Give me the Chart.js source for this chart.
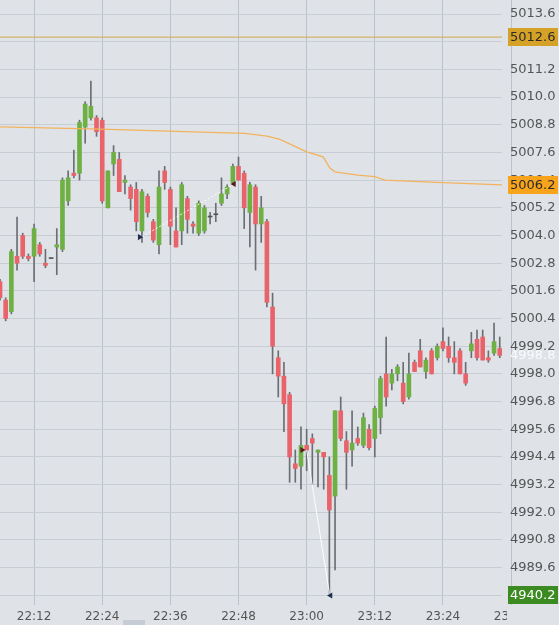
<!DOCTYPE html>
<html>
<head>
<meta charset="utf-8">
<script src="https://cdn.jsdelivr.net/npm/chart.js@4.4.1/dist/chart.umd.min.js"></script>
<style>
  html, body { margin: 0; padding: 0; background: #dfe3e8; }
  canvas { display: block; }
</style>
</head>
<body>
<canvas id="chart" width="559" height="625"></canvas>
<script>
// one candle per minute, first one at 22:06
const startMinute = 22 * 60 + 6;

const opens = [
  5002.0, 5001.2, 5000.7, 5003.1, 5004.0, 5003.1, 5003.1, 5003.6, 5002.8, 5003.0,
  5003.5, 5003.4, 5005.5, 5006.7, 5006.7, 5008.7, 5009.1, 5009.1, 5009.0, 5005.2,
  5007.1, 5007.3, 5006.3, 5006.1, 5006.0, 5004.2, 5005.7, 5004.6, 5003.6, 5006.8,
  5006.0, 5004.2, 5004.2, 5005.6, 5004.5, 5004.1, 5004.2, 5004.8, 5004.9, 5005.4,
  5005.8, 5006.3, 5007.0, 5006.7, 5005.0, 5006.1, 5004.5, 5004.6, 5000.9, 4998.7,
  4997.9, 4997.1, 4994.1, 4994.0, 4994.9, 4995.2, 4994.6, 4994.6, 4993.6, 4992.7,
  4996.4, 4995.1, 4994.7, 4995.2, 4994.9, 4995.6, 4995.2, 4996.1, 4998.0, 4997.6,
  4998.0, 4997.6, 4997.0, 4998.5, 4999.0, 4998.1, 4999.0, 4998.7, 4999.4, 4999.2,
  4998.7, 4999.0, 4998.0, 4999.0, 4999.5, 4999.6, 4998.7, 4998.9, 4999.1
];
const highs = [
  5002.1, 5001.3, 5003.4, 5004.8, 5004.1, 5003.2, 5004.5, 5003.7, 5003.4, 5003.0,
  5004.3, 5006.5, 5006.8, 5007.7, 5009.0, 5009.8, 5010.7, 5009.2, 5009.1, 5006.8,
  5007.9, 5007.6, 5006.6, 5006.2, 5006.3, 5006.0, 5005.8, 5004.7, 5006.8, 5007.0,
  5006.1, 5005.2, 5006.3, 5005.7, 5004.6, 5005.5, 5005.3, 5005.0, 5005.4, 5006.5,
  5006.2, 5007.1, 5007.4, 5006.8, 5006.3, 5006.2, 5005.7, 5004.7, 5001.5, 4999.0,
  4998.5, 4997.2, 4994.7, 4995.7, 4995.6, 4995.4, 4994.7, 4994.6, 4994.4, 4996.4,
  4997.0, 4995.5, 4996.4, 4995.7, 4996.3, 4995.8, 4996.6, 4997.9, 4999.6, 4998.2,
  4998.4, 4998.5, 4998.9, 4998.6, 4999.5, 4998.7, 4999.1, 4999.3, 5000.0, 4999.6,
  4999.4, 4999.1, 4998.5, 4999.8, 4999.9, 4999.9, 4999.0, 5000.2, 4999.6
];
const lows = [
  5001.2, 5000.3, 5000.6, 5002.5, 5003.0, 5002.9, 5002.0, 5003.1, 5002.6, 5003.0,
  5002.3, 5003.3, 5005.3, 5006.5, 5006.4, 5008.0, 5009.0, 5008.3, 5005.4, 5005.2,
  5006.6, 5005.9, 5005.8, 5005.1, 5004.2, 5003.7, 5004.8, 5003.7, 5003.2, 5006.0,
  5003.6, 5003.5, 5003.6, 5004.1, 5004.1, 5004.0, 5004.1, 5004.5, 5004.6, 5005.3,
  5005.6, 5006.3, 5006.4, 5004.3, 5003.5, 5002.5, 5003.7, 5000.9, 4998.0, 4997.0,
  4995.5, 4993.3, 4993.3, 4993.0, 4993.8, 4993.2, 4993.1, 4993.0, 4988.5, 4989.5,
  4995.1, 4993.0, 4994.0, 4994.9, 4994.8, 4994.7, 4994.4, 4995.4, 4996.6, 4997.3,
  4997.7, 4996.7, 4996.9, 4998.1, 4998.3, 4997.8, 4998.0, 4998.6, 4999.0, 4998.5,
  4998.0, 4998.0, 4997.5, 4998.7, 4998.6, 4998.6, 4998.5, 4998.8, 4998.7
];
const closes = [
  5001.3, 5000.4, 5003.3, 5002.8, 5003.1, 5003.0, 5004.3, 5003.2, 5002.7, 5003.0,
  5003.6, 5006.4, 5006.5, 5006.6, 5008.9, 5009.7, 5009.6, 5008.5, 5005.5, 5006.8,
  5007.6, 5005.9, 5006.4, 5005.6, 5004.6, 5005.9, 5005.0, 5003.8, 5006.1, 5006.3,
  5004.4, 5003.5, 5006.2, 5004.7, 5004.4, 5005.4, 5005.2, 5004.8, 5004.9, 5005.8,
  5006.1, 5007.0, 5006.4, 5005.2, 5006.2, 5004.5, 5005.2, 5001.1, 4999.2, 4997.9,
  4996.7, 4994.4, 4993.9, 4994.9, 4994.7, 4995.0, 4994.7, 4994.4, 4992.1, 4996.4,
  4995.2, 4994.6, 4995.0, 4995.0, 4996.1, 4994.8, 4996.5, 4997.8, 4997.0, 4998.0,
  4998.3, 4996.8, 4998.0, 4998.1, 4998.3, 4998.6, 4998.0, 4999.2, 4999.1, 4998.7,
  4998.5, 4998.0, 4997.6, 4999.3, 4998.7, 4998.6, 4998.6, 4999.4, 4998.8
];

// average price line (minutes after 22:06, price)
const avgX = [0, 17.6, 43.1, 47, 49.3, 54, 56.9, 58.1, 59, 63, 66, 67.8, 78, 88.5];
const avgY = [5008.71, 5008.61, 5008.43, 5008.31, 5008.17, 5007.63, 5007.41, 5006.92,
              5006.76, 5006.62, 5006.55, 5006.40, 5006.29, 5006.19];

const levelPrice = 5012.6;

// trade markers and their links
const tradeX = [24.6, 41.2, 53.2, 58.2];
const tradeY = [5003.93, 5006.23, 4994.70, 4988.39];
const tradeColor = ['#1f2d52', '#5a1b1b', '#5a1b1b', '#1f2d52'];
const tradeRot = [90, -90, 90, -90];
const linkA = [{ x: 25, y: 5003.95 }, { x: 41, y: 5006.2 }];
const linkB = [{ x: 54, y: 4994.7 }, { x: 58, y: 4988.5 }];

const yTicks = [4988.4, 4989.6, 4990.8, 4992.0, 4993.2, 4994.4, 4995.6, 4996.8, 4998.0,
  4999.2, 5000.4, 5001.6, 5002.8, 5004.0, 5005.2, 5006.4, 5007.6, 5008.8, 5010.0,
  5011.2, 5012.4, 5013.6];
const xTicks = ['22:12', '22:24', '22:36', '22:48', '23:00', '23:12', '23:24', '23:36'];

const badgeY = [5012.6, 5006.2, 4988.4];
const badgeText = ['5012.6', '5006.2', '4940.2'];
const badgeBg = ['#d5a126', '#f8a31c', '#3c8a22'];
const badgeFg = ['#2b2b2b', '#2b2b2b', '#ffffff'];
const lastPrice = 4998.8;

const toMin = s => { const p = s.split(':'); return +p[0] * 60 + +p[1] - startMinute; };
const fmt = m => {
  const t = m + startMinute;
  return String(Math.floor(t / 60)).padStart(2, '0') + ':' + String(t % 60).padStart(2, '0');
};

const GREEN = '#6eb043', RED = '#e8646a', GREYDOJI = '#555';
const bodyColors = opens.map((o, i) => closes[i] > o ? GREEN : (closes[i] < o ? RED : GREYDOJI));
const bodies = opens.map((o, i) => ({ x: i, y: [o, closes[i]] }));
const wicks = opens.map((o, i) => ({ x: i, y: [lows[i], highs[i]] }));

const BG = '#dfe3e8';

const noPad = s => { s.paddingTop = 0; s.paddingBottom = 0; s.paddingLeft = 0; s.paddingRight = 0; };

const paint = {
  id: 'paint',
  beforeDraw(chart) {
    const ctx = chart.ctx;
    ctx.save();
    ctx.fillStyle = BG;
    ctx.fillRect(0, 0, chart.width, chart.height);
    ctx.restore();
  },
  afterDraw(chart) {
    const ctx = chart.ctx, ys = chart.scales.y, area = chart.chartArea;
    ctx.save();
    // last time label is cut by the price column
    ctx.fillStyle = BG;
    ctx.fillRect(area.right + 5, area.bottom + 1, chart.width - area.right, chart.height - area.bottom);
    ctx.fillStyle = '#c6ccd3';
    ctx.fillRect(123, 620, 22, 5);

    ctx.font = '13px "DejaVu Sans"';
    ctx.textBaseline = 'middle';
    ctx.fillStyle = 'rgba(255,255,255,0.85)';
    ctx.fillText(lastPrice.toFixed(1), area.right + 8, ys.getPixelForValue(lastPrice));
    badgeY.forEach((v, i) => {
      const py = Math.round(ys.getPixelForValue(v));
      ctx.fillStyle = badgeBg[i];
      ctx.fillRect(area.right + 6, py - 9, 50, 18);
      ctx.fillStyle = badgeFg[i];
      ctx.fillText(badgeText[i], area.right + 8, py + 1);
    });
    ctx.restore();
  }
};

Chart.defaults.font.family = '"DejaVu Sans", sans-serif';

new Chart(document.getElementById('chart'), {
  type: 'bar',
  data: {
    datasets: [
      {
        type: 'line', data: avgX.map((x, i) => ({ x, y: avgY[i] })),
        borderColor: '#f3b25e', borderWidth: 1.3, pointRadius: 0, order: 0
      },
      {
        type: 'line', data: [{ x: -1, y: levelPrice }, { x: 90, y: levelPrice }],
        borderColor: '#d2a44a', borderWidth: 1, pointRadius: 0, order: 0
      },
      {
        type: 'line', data: linkA, borderColor: 'rgba(255,255,255,0.9)', borderWidth: 1,
        borderDash: [2, 2], pointRadius: 0, order: 0
      },
      {
        type: 'line', data: linkB, borderColor: 'rgba(255,255,255,0.9)', borderWidth: 1,
        pointRadius: 0, order: 0
      },
      {
        type: 'line', data: tradeX.map((x, i) => ({ x, y: tradeY[i] })), showLine: false,
        pointStyle: 'triangle', pointRadius: 3.5, pointRotation: tradeRot,
        pointBackgroundColor: tradeColor, pointBorderColor: tradeColor, pointBorderWidth: 0,
        order: -1
      },
      {
        data: wicks, backgroundColor: '#6b6f74', barThickness: 1, grouped: false, order: 2
      },
      {
        data: bodies, backgroundColor: bodyColors, barThickness: 4, minBarLength: 1,
        grouped: false, order: 1
      }
    ]
  },
  options: {
    responsive: false,
    animation: false,
    events: [],
    layout: { padding: 0, autoPadding: false },
    plugins: { legend: { display: false }, tooltip: { enabled: false } },
    scales: {
      x: {
        type: 'linear',
        offset: false,
        min: 0,
        max: 88.4,
        afterBuildTicks: s => { s.ticks = xTicks.map(t => ({ value: toMin(t) })); },
        afterFit: s => { s.height = 20; noPad(s); },
        border: { display: false },
        grid: { color: '#bcc2ca', drawTicks: false, offset: false },
        ticks: {
          autoSkip: false, maxRotation: 0, padding: 5, color: '#555',
          font: { size: 12 },
          callback: v => fmt(v)
        }
      },
      y: {
        position: 'right',
        min: 4987.98,
        max: 5014.21,
        afterBuildTicks: s => { s.ticks = yTicks.map(v => ({ value: v })); },
        afterFit: s => { s.width = 57; noPad(s); },
        border: { display: false },
        grid: { color: '#c8cdd4', drawTicks: false },
        ticks: {
          padding: 8, color: '#555', font: { size: 13 },
          callback: v => v.toFixed(1)
        }
      }
    }
  },
  plugins: [paint]
});
</script>
</body>
</html>
